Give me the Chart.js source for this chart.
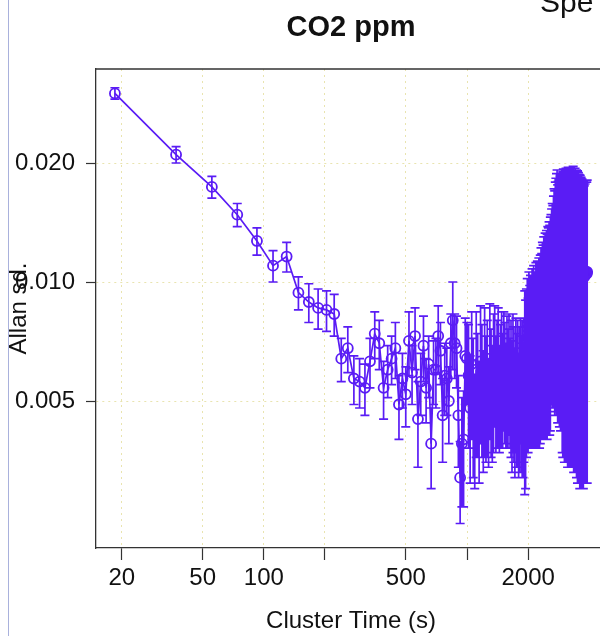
<!DOCTYPE html>
<html>
<head>
<meta charset="utf-8">
<script src="https://cdn.jsdelivr.net/npm/chart.js@4.4.1/dist/chart.umd.min.js"></script>
<style>
  html, body { margin: 0; padding: 0; background: #fff; overflow: hidden; }
  canvas { display: block; }
</style>
</head>
<body>
<canvas id="allanChart" width="620" height="636"></canvas>
<script>
// cluster times (s)
const clusterTime = [
  18.5, 37, 55.5, 74, 92.5, 111, 129.5, 148, 166.5, 185,
  203.5, 222, 240.5, 259, 277.5, 296, 314.5, 333, 351.5, 370,
  388.5, 407, 425.5, 444, 462.5, 481, 499.5, 518, 536.5, 555,
  573.5, 592, 610.5, 629, 647.5, 666, 684.5, 703, 721.5, 740,
  758.5, 777, 795.5, 814, 832.5, 851, 869.5, 888, 906.5, 925,
  943.5, 962, 980.5, 999, 1017.5, 1036, 1054.5, 1073, 1091.5, 1110,
  1128.5, 1147, 1165.5, 1184, 1202.5, 1221, 1239.5, 1258, 1276.5, 1295,
  1313.5, 1332, 1350.5, 1369, 1387.5, 1406, 1424.5, 1443, 1461.5, 1480,
  1498.5, 1517, 1535.5, 1554, 1572.5, 1591, 1609.5, 1628, 1646.5, 1665,
  1683.5, 1702, 1720.5, 1739, 1757.5, 1776, 1794.5, 1813, 1831.5, 1850,
  1868.5, 1887, 1905.5, 1924, 1942.5, 1961, 1979.5, 1998, 2016.5, 2035,
  2053.5, 2072, 2090.5, 2109, 2127.5, 2146, 2164.5, 2183, 2201.5, 2220,
  2238.5, 2257, 2275.5, 2294, 2312.5, 2331, 2349.5, 2368, 2386.5, 2405,
  2423.5, 2442, 2460.5, 2479, 2497.5, 2516, 2534.5, 2553, 2571.5, 2590,
  2608.5, 2627, 2645.5, 2664, 2682.5, 2701, 2719.5, 2738, 2756.5, 2775,
  2793.5, 2812, 2830.5, 2849, 2867.5, 2886, 2904.5, 2923, 2941.5, 2960,
  2978.5, 2997, 3015.5, 3034, 3052.5, 3071, 3089.5, 3108, 3126.5, 3145,
  3163.5, 3182, 3200.5, 3219, 3237.5, 3256, 3274.5, 3293, 3311.5, 3330,
  3348.5, 3367, 3385.5, 3404, 3422.5, 3441, 3459.5, 3478, 3496.5, 3515,
  3533.5, 3552, 3570.5, 3589, 3607.5, 3626, 3644.5, 3663, 3681.5, 3700,
  3718.5, 3737, 3755.5, 3774, 3792.5, 3811, 3829.5, 3848, 3866.5, 3885,
  3903.5
];

// Allan sd
const allanSd = [
  0.0300, 0.0210, 0.0174, 0.0148, 0.0127, 0.0110, 0.0116, 0.0094, 0.0089, 0.0086,
  0.0085, 0.0083, 0.0064, 0.0068, 0.0057, 0.0056, 0.0054, 0.0063, 0.0074, 0.0070,
  0.0054, 0.0060, 0.0064, 0.0068, 0.0049, 0.0057, 0.0052, 0.0071, 0.0059, 0.0073,
  0.0045, 0.0056, 0.0069, 0.0054, 0.0062, 0.0039, 0.0060, 0.0060, 0.0073, 0.0067,
  0.0046, 0.0058, 0.0057, 0.0050, 0.0070, 0.0080, 0.0070, 0.0068, 0.0046, 0.0032,
  0.0039, 0.0040, 0.0065, 0.0064, 0.0058, 0.0048, 0.0062, 0.0052, 0.0044, 0.0060,
  0.0055, 0.0047, 0.0063, 0.0057, 0.0050, 0.0061, 0.0054, 0.0058, 0.0049, 0.0064,
  0.0056, 0.0052, 0.0060, 0.0065, 0.0055, 0.0059, 0.0062, 0.0053, 0.0058, 0.0061,
  0.0056, 0.0063, 0.0059, 0.0054, 0.0060, 0.0057, 0.0062, 0.0055, 0.0058, 0.0052,
  0.0060, 0.0056, 0.0050, 0.0059, 0.0054, 0.0057, 0.0049, 0.0055, 0.0060, 0.0053,
  0.0056, 0.0051, 0.0058, 0.0062, 0.0060, 0.0066, 0.0070, 0.0064, 0.0072, 0.0068,
  0.0071, 0.0066, 0.0073, 0.0069, 0.0074, 0.0070, 0.0072, 0.0075, 0.0071, 0.0076,
  0.0073, 0.0077, 0.0074, 0.0078, 0.0081, 0.0079, 0.0083, 0.0082, 0.0085, 0.0083,
  0.0087, 0.0085, 0.0088, 0.0086, 0.0090, 0.0089, 0.0092, 0.0090, 0.0094, 0.0098,
  0.0101, 0.0104, 0.0102, 0.0107, 0.0110, 0.0108, 0.0113, 0.0115, 0.0117, 0.0119,
  0.0110, 0.0112, 0.0113, 0.0111, 0.0114, 0.0112, 0.0115, 0.0113, 0.0111, 0.0113,
  0.0115, 0.0112, 0.0114, 0.0110, 0.0113, 0.0115, 0.0111, 0.0114, 0.0112, 0.0115,
  0.0113, 0.0111, 0.0114, 0.0112, 0.0115, 0.0113, 0.0110, 0.0114, 0.0112, 0.0115,
  0.0111, 0.0113, 0.0110, 0.0114, 0.0112, 0.0110, 0.0112, 0.0109, 0.0111, 0.0108,
  0.0110, 0.0107, 0.0109, 0.0106, 0.0108, 0.0105, 0.0107, 0.0104, 0.0106, 0.0104,
  0.0106, 0.0103, 0.0105, 0.0103, 0.0105, 0.0104, 0.0106, 0.0105, 0.0106, 0.0105,
  0.0106
];

// error bar half-length (sd of the Allan sd)
const sdError = [
  0.0010, 0.0010, 0.0011, 0.0010, 0.0010, 0.0010, 0.0010, 0.0009, 0.0010, 0.0010,
  0.0010, 0.0010, 0.0008, 0.0009, 0.0008, 0.0008, 0.0008, 0.0009, 0.0010, 0.0010,
  0.0009, 0.0009, 0.0009, 0.0011, 0.0009, 0.0009, 0.0009, 0.0013, 0.0010, 0.0013,
  0.0011, 0.0010, 0.0013, 0.0010, 0.0011, 0.0009, 0.0011, 0.0012, 0.0014, 0.0012,
  0.0011, 0.0012, 0.0011, 0.0011, 0.0013, 0.0020, 0.0013, 0.0014, 0.0012, 0.00075,
  0.0012, 0.0013, 0.0016, 0.0015, 0.0020, 0.0017, 0.0022, 0.0020, 0.0014, 0.0024,
  0.0019, 0.0016, 0.0024, 0.0021, 0.0017, 0.0025, 0.0019, 0.0022, 0.0015, 0.0024,
  0.0020, 0.0017, 0.0023, 0.0022, 0.0018, 0.0021, 0.0024, 0.0016, 0.0020, 0.0023,
  0.0018, 0.0021, 0.0020, 0.0016, 0.0022, 0.0019, 0.0021, 0.0017, 0.0022, 0.0019,
  0.0023, 0.0021, 0.0018, 0.0022, 0.0020, 0.0023, 0.0017, 0.0022, 0.0021, 0.0020,
  0.0024, 0.0019, 0.0023, 0.0033, 0.0030, 0.0030, 0.0032, 0.0027, 0.0034, 0.0030,
  0.0033, 0.0028, 0.0035, 0.0031, 0.0036, 0.0032, 0.0034, 0.0037, 0.0033, 0.0037,
  0.0035, 0.0038, 0.0036, 0.0039, 0.0041, 0.0039, 0.0043, 0.0042, 0.0045, 0.0043,
  0.0046, 0.0045, 0.0047, 0.0046, 0.0048, 0.0048, 0.0050, 0.0049, 0.0052, 0.0050,
  0.0052, 0.0054, 0.0054, 0.0058, 0.0062, 0.0062, 0.0066, 0.0068, 0.0071, 0.0073,
  0.0066, 0.0068, 0.0069, 0.0068, 0.0071, 0.0070, 0.0072, 0.0071, 0.0074, 0.0077,
  0.0078, 0.0076, 0.0079, 0.0075, 0.0078, 0.0079, 0.0076, 0.0079, 0.0078, 0.0080,
  0.0078, 0.0077, 0.0080, 0.0078, 0.0080, 0.0079, 0.0076, 0.0080, 0.0078, 0.0081,
  0.0078, 0.0079, 0.0077, 0.0080, 0.0079, 0.0077, 0.0080, 0.0077, 0.0080, 0.0077,
  0.0079, 0.0076, 0.0078, 0.0076, 0.0078, 0.0075, 0.0077, 0.0074, 0.0076, 0.0073,
  0.0075, 0.0073, 0.0074, 0.0072, 0.0074, 0.0073, 0.0075, 0.0074, 0.0075, 0.0074,
  0.0075
];

const xTickValues = [20, 50, 100, 200, 500, 1000, 2000];
const xTickLabels = ['20', '50', '100', '', '500', '', '2000'];
const yTickValues = [0.005, 0.01, 0.02];
const yTickLabels = ['0.005', '0.010', '0.020'];

const purple = '#5a1cf5';
const gridColor = 'rgba(215, 205, 110, 0.55)';
const axisColor = '#333333';
const fontFamily = '"Liberation Sans", Arial, sans-serif';

document.addEventListener('DOMContentLoaded', () => {
  const ctx = document.getElementById('allanChart').getContext('2d');

  // vertical error bars with caps, drawn through the scales
  const errorBars = {
    id: 'errorBars',
    afterDatasetsDraw(chart) {
      const { ctx, chartArea: a, scales: { x, y } } = chart;
      ctx.save();
      ctx.beginPath();
      ctx.rect(a.left, a.top, a.right - a.left, a.bottom - a.top);
      ctx.clip();
      ctx.strokeStyle = purple;
      ctx.lineWidth = 1.7;
      ctx.beginPath();
      allanSd.forEach((v, i) => {
        const px = x.getPixelForValue(clusterTime[i]);
        const top = y.getPixelForValue(v + sdError[i]);
        const bot = y.getPixelForValue(v - sdError[i]);
        ctx.moveTo(px, top); ctx.lineTo(px, bot);
        ctx.moveTo(px - 4.5, top); ctx.lineTo(px + 4.5, top);
        ctx.moveTo(px - 4.5, bot); ctx.lineTo(px + 4.5, bot);
      });
      ctx.stroke();
      ctx.restore();
    }
  };

  // box top, main title, the neighbouring panel's title and the page edge
  const frame = {
    id: 'frame',
    afterDraw(chart) {
      const { ctx, chartArea: a } = chart;
      ctx.save();
      ctx.strokeStyle = axisColor;
      ctx.lineWidth = 1.3;
      ctx.beginPath();
      ctx.moveTo(a.left, a.top);
      ctx.lineTo(a.right, a.top);
      ctx.lineTo(a.right, a.bottom);
      ctx.stroke();

      ctx.strokeStyle = '#a9b1dc';
      ctx.lineWidth = 1;
      ctx.beginPath();
      ctx.moveTo(8.5, 0);
      ctx.lineTo(8.5, chart.height);
      ctx.stroke();

      ctx.fillStyle = '#111';
      ctx.textAlign = 'center';
      ctx.textBaseline = 'alphabetic';
      ctx.font = 'bold 29px ' + fontFamily;
      ctx.fillText('CO2 ppm', (a.left + a.right) / 2, 36);

      ctx.textAlign = 'left';
      ctx.font = '30px ' + fontFamily;
      ctx.fillText('Spe', 540, 12);
      ctx.restore();
    }
  };

  new Chart(ctx, {
    type: 'line',
    data: {
      datasets: [{
        data: clusterTime.map((t, i) => ({ x: t, y: allanSd[i] })),
        borderColor: purple,
        borderWidth: 1.7,
        pointRadius: 5,
        pointBorderWidth: 1.8,
        pointBorderColor: purple,
        pointBackgroundColor: 'rgba(0,0,0,0)',
        tension: 0
      }]
    },
    options: {
      responsive: false,
      animation: false,
      devicePixelRatio: 1,
      layout: { padding: { top: 69, right: 14, left: 0, bottom: 0 } },
      plugins: {
        legend: { display: false },
        tooltip: { enabled: false }
      },
      scales: {
        x: {
          type: 'logarithmic',
          min: 14.93,
          max: 4831,
          afterBuildTicks(scale) { scale.ticks = xTickValues.map(v => ({ value: v })); },
          afterFit(scale) { scale.height = 88; },
          ticks: {
            autoSkip: false,
            maxRotation: 0,
            padding: 4,
            color: '#111',
            font: { family: fontFamily, size: 24 },
            callback: (value, index) => xTickLabels[index]
          },
          grid: {
            color: gridColor,
            lineWidth: 1,
            tickColor: axisColor,
            tickLength: 12,
            tickWidth: 1.2,
            tickBorderDash: []
          },
          border: { display: true, color: axisColor, width: 1.3, dash: [2, 4] },
          title: {
            display: true,
            text: 'Cluster Time (s)',
            color: '#111',
            font: { family: fontFamily, size: 24 },
            padding: { top: 0, bottom: 0 }
          }
        },
        y: {
          type: 'logarithmic',
          min: 0.002124,
          max: 0.03458,
          afterBuildTicks(scale) { scale.ticks = yTickValues.map(v => ({ value: v })); },
          afterFit(scale) { scale.width = 96; },
          ticks: {
            autoSkip: false,
            padding: 11,
            color: '#111',
            font: { family: fontFamily, size: 24 },
            callback: (value, index) => yTickLabels[index]
          },
          grid: {
            color: gridColor,
            lineWidth: 1,
            tickColor: axisColor,
            tickLength: 10,
            tickWidth: 1.2,
            tickBorderDash: []
          },
          border: { display: true, color: axisColor, width: 1.3, dash: [2, 4] },
          title: {
            display: true,
            text: 'Allan sd.',
            color: '#111',
            font: { family: fontFamily, size: 24 },
            padding: { top: 5, bottom: 0 }
          }
        }
      }
    },
    plugins: [errorBars, frame]
  });
});
</script>
</body>
</html>
